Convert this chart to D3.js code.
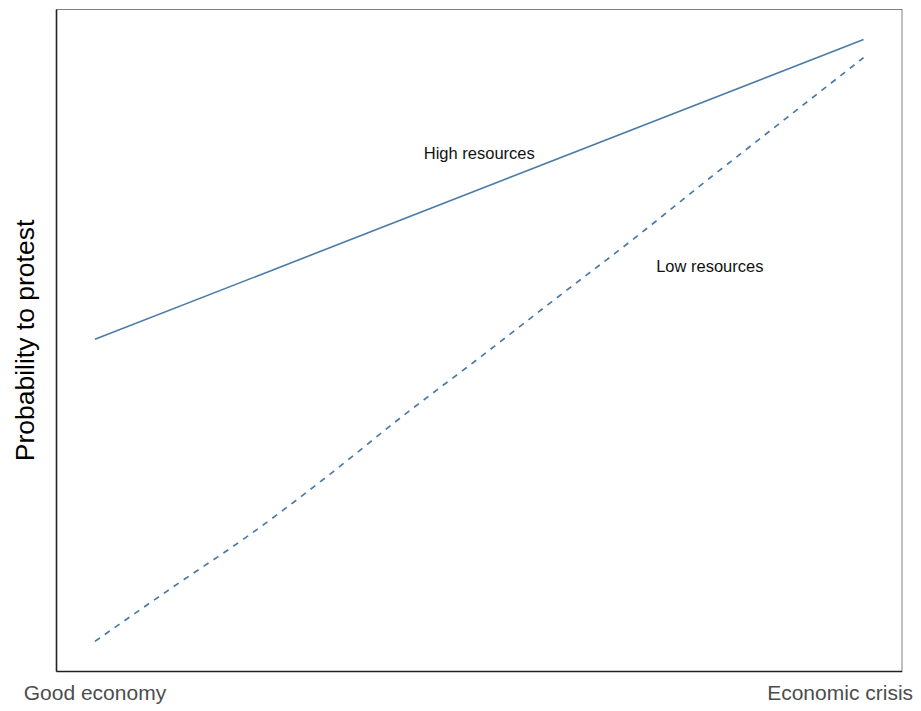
<!DOCTYPE html>
<html>
<head>
<meta charset="utf-8">
<script src="https://cdn.jsdelivr.net/npm/d3@7"></script>
<style>
  html, body { margin: 0; padding: 0; background: #fff; }
  svg { display: block; font-family: "Liberation Sans", Arial, sans-serif; }
</style>
</head>
<body>
<svg id="chart" width="921" height="711"></svg>
<script>
// ---- data ----
const xLabels = ["Good economy", "Economic crisis"];
const highX = [0, 1];
const highY = [0.502, 1.0];
const lowX = [0, 0.1, 0.2, 0.3, 0.4, 0.5, 0.6, 0.7, 0.8, 0.9, 1.0];
const lowY = [0, 0.089, 0.176, 0.272, 0.374, 0.471, 0.570, 0.668, 0.770, 0.870, 0.970];
const labelNames = ["High resources", "Low resources"];
const labelX = [0.500, 0.800];
const labelY = [0.801, 0.613];

// ---- layout ----
const svg = d3.select("#chart");
const panel = { left: 56.5, top: 9.5, right: 902, bottom: 671.5 };
const pw = panel.right - panel.left, ph = panel.bottom - panel.top;
const expX = pw / 1.1 * 0.05, expY = ph / 1.1 * 0.05;

const x = d3.scaleLinear().domain([0, 1]).range([panel.left + expX, panel.right - expX]);
const y = d3.scaleLinear().domain([0, 1]).range([panel.bottom - expY, panel.top + expY]);

const color = "#4a7ba7";

// panel border
svg.append("rect")
  .attr("x", panel.left).attr("y", panel.top)
  .attr("width", pw).attr("height", ph)
  .attr("fill", "none").attr("stroke", "#808080").attr("stroke-width", 1);

// axis lines (no ticks)
const xAxis = d3.axisBottom(x).tickValues([]).tickSize(0);
const yAxis = d3.axisLeft(y).tickValues([]).tickSize(0);
svg.append("g").attr("transform", `translate(0,${panel.bottom})`).call(xAxis)
  .select(".domain").attr("stroke", "#222").attr("stroke-width", 1.6)
  .attr("d", `M${panel.left},0H${panel.right}`);
svg.append("g").attr("transform", `translate(${panel.left},0)`).call(yAxis)
  .select(".domain").attr("stroke", "#222").attr("stroke-width", 1.6)
  .attr("d", `M0,${panel.top}V${panel.bottom}`);

// lines
const line = d3.line().x(d => x(d[0])).y(d => y(d[1]));
svg.append("path")
  .datum(highX.map((v, i) => [v, highY[i]]))
  .attr("d", line).attr("fill", "none")
  .attr("stroke", color).attr("stroke-width", 1.6);
svg.append("path")
  .datum(lowX.map((v, i) => [v, lowY[i]]))
  .attr("d", line.curve(d3.curveMonotoneX)).attr("fill", "none")
  .attr("stroke", color).attr("stroke-width", 1.7)
  .attr("stroke-dasharray", "6,6");

// annotations
svg.selectAll("text.ann").data(labelNames).enter().append("text")
  .attr("class", "ann")
  .attr("x", (d, i) => x(labelX[i]))
  .attr("y", (d, i) => y(labelY[i]))
  .attr("text-anchor", "middle")
  .attr("font-size", 16.5)
  .attr("fill", "#111")
  .text(d => d);

// x labels
svg.append("text")
  .attr("x", x(0)).attr("y", 700)
  .attr("text-anchor", "middle")
  .attr("font-size", 21).attr("fill", "#4d4d4d")
  .text(xLabels[0]);
svg.append("text")
  .attr("x", x(1) + 49.5).attr("y", 700)
  .attr("text-anchor", "end")
  .attr("font-size", 21).attr("fill", "#4d4d4d")
  .text(xLabels[1]);

// y title
svg.append("text")
  .attr("transform", `translate(34,${(panel.top + panel.bottom) / 2}) rotate(-90)`)
  .attr("text-anchor", "middle")
  .attr("font-size", 26.5).attr("fill", "#000")
  .text("Probability to protest");
</script>
</body>
</html>
